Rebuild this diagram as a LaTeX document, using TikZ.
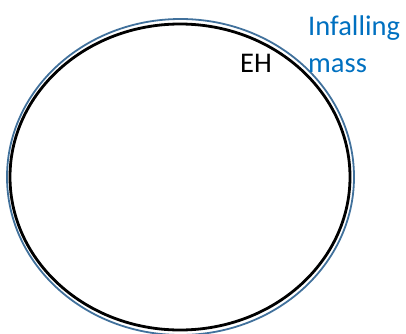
\documentclass[tikz,border=0pt]{standalone}
\usepackage{fontspec}
\setmainfont{Carlito}
\definecolor{outlineblue}{RGB}{65,113,156}
\definecolor{textblue}{RGB}{0,112,192}
\begin{document}
\begin{tikzpicture}[x=1pt,y=1pt,
  lbl/.style={inner sep=0pt,anchor=base west,font=\fontsize{28.5}{34}\selectfont}]
\useasboundingbox (0,0) rectangle (406,333);
\clip (0,0) rectangle (406,333);
\draw[outlineblue,line width=1.8pt] (180.5,156) ellipse [x radius=173.5, y radius=158];
\draw[black,line width=2.8pt] (180,156) ellipse [x radius=170, y radius=153];
\node[lbl] (eh) at (240,261) {EH};
\node[lbl,text=textblue] (inf) at (308,298) {Infalling};
\node[lbl,text=textblue] (mass) at (308,261) {mass};
\end{tikzpicture}
\end{document}
